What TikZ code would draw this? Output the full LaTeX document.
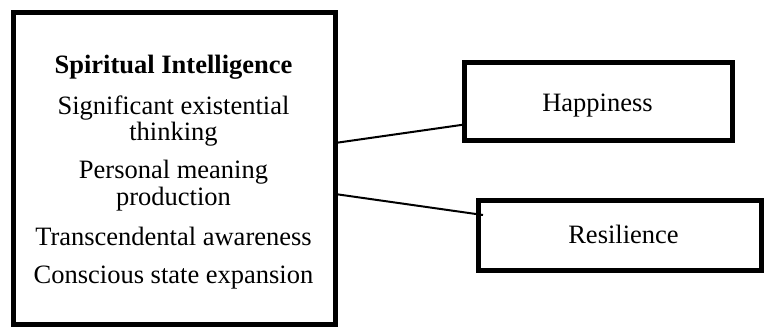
\documentclass[tikz,border=0pt]{standalone}
\usepackage{fontspec}
\setmainfont{Liberation Serif}
\begin{document}
\begin{tikzpicture}[x=1pt,y=-1pt,
  box/.style={draw,line width=5pt,rectangle,inner sep=0pt,outer sep=0pt},
  txt/.style={anchor=base,inner sep=0pt,font=\fontsize{26.5}{27}\selectfont},
  link/.style={line width=2pt}]
\useasboundingbox (0,0) rectangle (764,329);
\node[box,minimum width=321.5pt,minimum height=312pt] (L) at (174.25,168.5) {};
\node[box,minimum width=268pt,minimum height=78pt] (H) at (598.5,101.5) {};
\node[box,minimum width=283pt,minimum height=70pt] (R) at (619.5,235.5) {};
\node[txt,font=\fontsize{26.5}{27}\selectfont\bfseries] (t1) at (173.5,74) {Spiritual Intelligence};
\node[txt] (t2) at (173.5,114) {Significant existential};
\node[txt] (t3) at (173.5,140) {thinking};
\node[txt] (t4) at (173.5,178) {Personal meaning};
\node[txt] (t5) at (173.5,205) {production};
\node[txt] (t6) at (173.5,245) {Transcendental awareness};
\node[txt] (t7) at (173.5,283) {Conscious state expansion};
\node[txt] (h) at (597.5,112) {Happiness};
\node[txt] (r) at (623.5,243) {Resilience};
\draw[link] ([yshift=25.5pt]L.east) -- ([yshift=16pt]H.south west);
\draw[link] ([yshift=-25.5pt]L.east) -- ([xshift=5pt,yshift=-14.5pt]R.north west);
\end{tikzpicture}
\end{document}
